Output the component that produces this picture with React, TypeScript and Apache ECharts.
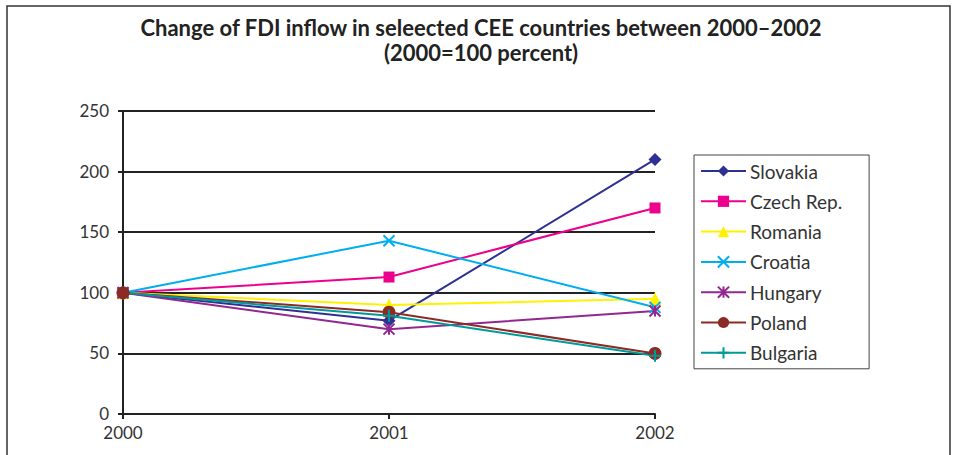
import React, { useEffect, useRef } from "react";
import * as echarts from "echarts";

const years = ["2000", "2001", "2002"];
const slovakia = [100, 77, 210];
const czech = [100, 113, 170];
const romania = [100, 90, 95];
const croatia = [100, 143, 88];
const hungary = [100, 70, 85];
const poland = [100, 84, 50];
const bulgaria = [100, 81, 48];

const FONT = "Lato";

export default function App() {
  const ref = useRef<HTMLDivElement>(null);
  useEffect(() => {
    document.body.style.margin = "0";
    const chart = echarts.init(ref.current!, null, { renderer: "svg" });
    const mk = (
      name: string,
      data: any[],
      color: string,
      symbol: string,
      size: number,
      stroke = false
    ) => ({
      name,
      type: "line",
      data,
      symbol,
      symbolSize: size,
      showAllSymbol: true,
      lineStyle: { color, width: 2 },
      itemStyle: stroke
        ? { color: "rgba(0,0,0,0)", borderColor: color, borderWidth: 2 }
        : { color, borderWidth: 0 },
      emphasis: { disabled: true },
    });
    chart.setOption({
      animation: false,
      backgroundColor: "#fff",
      textStyle: { fontFamily: FONT },
      title: {
        text: "Change of FDI inflow in seleected CEE countries between 2000–2002\n(2000=100 percent)",
        left: 476,
        textAlign: "center",
        top: 10,
        textStyle: { fontSize: 22, fontWeight: "bold", color: "#222", lineHeight: 25, fontFamily: FONT },
      },
      graphic: [
        {
          type: "rect",
          shape: { x: 7, y: 6, width: 943, height: 470 },
          style: { fill: "none", stroke: "#333", lineWidth: 1.5 },
          silent: true,
        },
      ],
      grid: { left: 123, right: 302, top: 111, bottom: 41 },
      legend: {
        orient: "vertical",
        left: 694,
        top: 155,
        padding: [6, 27, 6, 6],
        itemGap: 10.3,
        itemWidth: 45,
        itemHeight: 14,
        borderColor: "#444",
        borderWidth: 1,
        textStyle: { fontSize: 19, lineHeight: 20, color: "#333", fontFamily: FONT, padding: [0, 0, 0, -1] },
        data: ["Slovakia", "Czech Rep.", "Romania", "Croatia", "Hungary", "Poland", "Bulgaria"],
      },
      xAxis: {
        type: "category",
        data: years,
        boundaryGap: false,
        axisLine: { lineStyle: { color: "#222", width: 2 } },
        axisTick: { show: true, alignWithLabel: true, length: 5, lineStyle: { color: "#222", width: 2 } },
        axisLabel: { fontSize: 17, color: "#333", margin: 10, fontFamily: FONT },
        splitLine: { show: false },
      },
      yAxis: {
        type: "value",
        min: 0,
        max: 250,
        interval: 50,
        axisLine: { show: true, lineStyle: { color: "#222", width: 2 } },
        axisTick: { show: true, length: 5, lineStyle: { color: "#222", width: 2 } },
        axisLabel: { fontSize: 17, color: "#333", margin: 14, fontFamily: FONT, verticalAlign: "bottom", lineHeight: 17, padding: [0, 0, -8, 0] },
        splitLine: { show: true, lineStyle: { color: "#222", width: 2 } },
      },
      series: [
        mk("Slovakia", slovakia, "#2E3192", "diamond", 13),
        mk("Czech Rep.", czech, "#EC008C", "rect", 11),
        mk("Romania", romania, "#FFF200", "triangle", 13),
        mk("Croatia", croatia, "#00AEEF", "path://M0,0L10,10M10,0L0,10", 11, true),
        mk("Hungary", hungary, "#92278F", "path://M0,0L10,10M10,0L0,10M5,0L5,10", 11, true),
        mk("Poland", poland, "#8C2A25", "circle", 13),
        mk(
          "Bulgaria",
          [{ value: bulgaria[0], symbol: "none" }, bulgaria[1], bulgaria[2]],
          "#00999A",
          "path://M5,0L5,10M0,5L10,5",
          12,
          true
        ),
      ],
    });
    return () => chart.dispose();
  }, []);
  return <div ref={ref} style={{ position: "fixed", left: 0, top: 0, width: 957, height: 455 }} />;
}
